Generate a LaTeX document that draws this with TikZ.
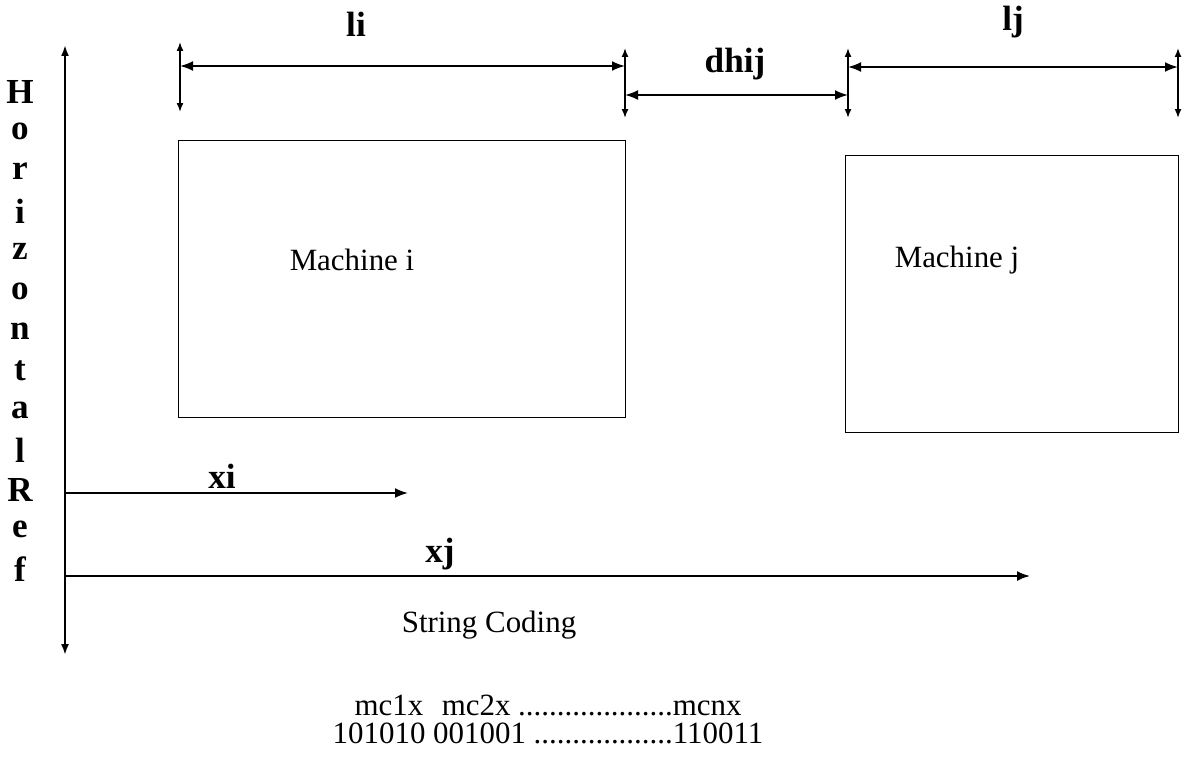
\documentclass[tikz,border=0pt]{standalone}
\usepackage{fontspec}
\setmainfont{Liberation Serif}
\usetikzlibrary{arrows.meta}

\tikzset{
  axisline/.style={{Latex[length=2.2mm,width=1.6mm]}-{Latex[length=2.2mm,width=1.6mm]}, line width=1.1pt},
  dimarrow/.style={{Latex[length=2.6mm,width=2mm]}-{Latex[length=2.6mm,width=2mm]}, line width=1.1pt},
  tickarrow/.style={{Latex[length=1.8mm,width=1.4mm]}-{Latex[length=1.8mm,width=1.4mm]}, line width=0.9pt},
  posarrow/.style={-{Latex[length=2.6mm,width=2mm]}, line width=1.1pt},
  machine/.style={draw, line width=0.8pt, anchor=north west, inner sep=0pt},
  lbl/.style={font=\fontsize{17.6}{21}\selectfont, inner sep=0pt},
  blbl/.style={font=\fontsize{20}{24}\selectfont\bfseries, inner sep=0pt},
}

\begin{document}
\begin{tikzpicture}[x=0.02cm,y=-0.02cm]
\useasboundingbox (0,0) rectangle (1195,770);

% Reference axis
\coordinate (axtop) at (65,45);
\coordinate (axbot) at (65,655);
\draw[axisline] (axtop) -- (axbot);
\foreach \c [count=\k from 0] in {H,o,r,i,z,o,n,t,a,l,R,e,f}
  \node[blbl] (ref\k) at (20,92+39.8*\k) {\c};

% Machines
\node[machine, minimum width=8.94cm, minimum height=5.54cm] (mi) at (178,140) {};
\node[machine, minimum width=6.66cm, minimum height=5.54cm] (mj) at (845,155) {};
\node[lbl] (mitext) at (352,260) {Machine i};
\node[lbl] (mjtext) at (957,260) {Machine j};

% Ticks
\coordinate (t1a) at (180,42);  \coordinate (t1b) at (180,112);
\coordinate (t2a) at (625,48);  \coordinate (t2b) at (625,118);
\coordinate (t3a) at (848,48);  \coordinate (t3b) at (848,118);
\coordinate (t4a) at (1178,48); \coordinate (t4b) at (1178,118);
\draw[tickarrow] (t1a) -- (t1b);
\draw[tickarrow] (t2a) -- (t2b);
\draw[tickarrow] (t3a) -- (t3b);
\draw[tickarrow] (t4a) -- (t4b);

% Dimensions
\coordinate (li1) at (180,66);  \coordinate (li2) at (625,66);
\coordinate (dh1) at (625,95);  \coordinate (dh2) at (848,95);
\coordinate (lj1) at (848,67);  \coordinate (lj2) at (1178,67);
\draw[dimarrow] (li1) -- (li2);
\draw[dimarrow] (dh1) -- (dh2);
\draw[dimarrow] (lj1) -- (lj2);
\node[blbl] (li) at (356,24) {li};
\node[blbl] (dhij) at (735,64) {dhij};
\node[blbl] (lj) at (1013,22) {lj};

% Positions
\coordinate (xi0) at (65,493);  \coordinate (xi1) at (408,493);
\coordinate (xj0) at (65,576);  \coordinate (xj1) at (1030,576);
\draw[posarrow] (xi0) -- (xi1);
\draw[posarrow] (xj0) -- (xj1);
\node[blbl] (xi) at (222,476) {xi};
\node[blbl] (xj) at (440,554) {xj};

% Coding
\node[lbl] (coding) at (489,625) {String Coding};
\node[lbl] (codehead) at (548,705) {mc1x\hspace{0.6em}mc2x ....................mcnx};
\node[lbl] (codebits) at (548,733) {101010 001001 ..................110011};
\end{tikzpicture}
\end{document}
